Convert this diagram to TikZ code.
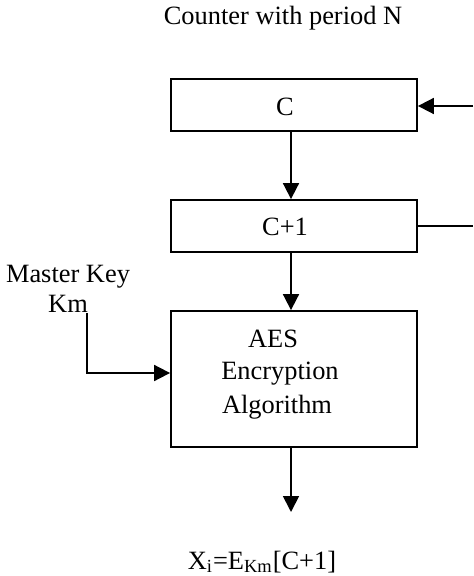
\documentclass[tikz,border=0pt]{standalone}
\usepackage{fontspec}
\setmainfont{Liberation Serif}
\usetikzlibrary{arrows.meta}
\begin{document}
\begin{tikzpicture}[x=0.5pt,y=-0.5pt,
  box/.style={draw,line width=0.9pt,inner sep=0pt},
  lbl/.style={font=\fontsize{13.2}{15}\selectfont,inner sep=0pt,anchor=base},
  conn/.style={line width=0.9pt},
  arr/.style={line width=0.9pt,-{Triangle[length=8pt,width=8pt]}}]
\useasboundingbox (0,0) rectangle (473,576);
\node[lbl] (title) at (283,25) {Counter with period N};
\node[box,minimum width=123pt,minimum height=26pt] (c) at (294,105) {};
\node[box,minimum width=123pt,minimum height=26pt] (c1) at (294,226) {};
\node[box,minimum width=123pt,minimum height=68pt] (aes) at (294,379) {};
\node[lbl] (tc) at (285,115.5) {C};
\node[lbl] (tc1) at (285,235.5) {C+1};
\node[lbl] (t1) at (273,347) {AES};
\node[lbl] (t2) at (280,379) {Encryption};
\node[lbl] (t3) at (277,413) {Algorithm};
\node[lbl] (mk) at (68,283) {Master Key};
\node[lbl] (km) at (68,313) {Km};
\node[lbl] (out) at (262,569) {X$_{\mathrm{i}}$=E$_{\mathrm{Km}}$[C+1]};
\coordinate (rin) at (473,106);
\coordinate (rout) at (473,226);
\coordinate (kstart) at (87,313);
\coordinate (kcorner) at (87,373);
\coordinate (oend) at (291,512);
\draw[arr] (rin) -- (c.east |- rin);
\draw[conn] (c1.east) -- (rout);
\draw[arr] (c.south -| oend) -- (c1.north -| oend);
\draw[arr] (c1.south -| oend) -- (aes.north -| oend);
\draw[arr] (kstart) -- (kcorner) -- (kcorner -| aes.west);
\draw[arr] (aes.south -| oend) -- (oend);
\end{tikzpicture}
\end{document}
